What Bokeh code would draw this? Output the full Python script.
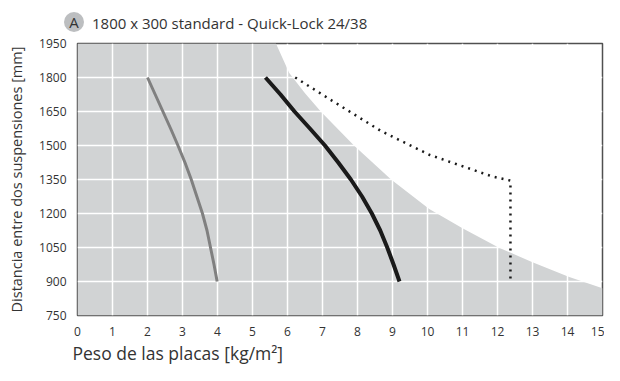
from bokeh.plotting import figure
from bokeh.models import Range1d, FixedTicker, Title, Div
from bokeh.layouts import column
from bokeh.embed import file_html
from bokeh.resources import INLINE

# ---- data ----
x_ticks = list(range(0, 16))
y_ticks = [750, 900, 1050, 1200, 1350, 1500, 1650, 1800, 1950]

# limit area (grey region lies below this boundary)
limit_x = [5.67, 6.05, 6.5, 6.95, 7.9, 8.96, 10.05, 11.0, 12.03, 13.0, 14.05, 15.0]
limit_y = [1950, 1820, 1730, 1650, 1500, 1350, 1220, 1135, 1050, 985, 920, 870]

grey_x = [2.0, 2.22, 2.44, 2.66, 2.87, 3.07, 3.25, 3.41, 3.57, 3.7, 3.8, 3.9, 3.99]
grey_y = [1800, 1725, 1650, 1575, 1500, 1425, 1350, 1275, 1200, 1125, 1050, 975, 900]

black_x = [5.37, 5.8, 6.2, 6.64, 7.07, 7.45, 7.81, 8.13, 8.41, 8.65, 8.85, 9.03, 9.2]
black_y = [1800, 1725, 1650, 1575, 1500, 1425, 1350, 1275, 1200, 1125, 1050, 975, 900]

dot_x = [6.22, 7.27, 8.67, 10.07, 11.84, 12.37, 12.37]
dot_y = [1800, 1698, 1564, 1458, 1364, 1345, 900]

x_min, x_max = 0, 15
y_min, y_max = 750, 1950

title_badge = "A"
title_text = "1800 x 300 standard - Quick-Lock 24/38"
x_label = "Peso de las placas [kg/m²]"
y_label = "Distancia entre dos suspensiones [mm]"

FONT = "Open Sans"
TXT = "#333333"

HEAD_H = 32
header = Div(width=604, height=HEAD_H, margin=(0, 0, 0, 0), text=(
    f'<div style="position:relative;width:604px;height:{HEAD_H}px;'
    f'font-family:\'{FONT}\';color:{TXT};">'
    '<span style="position:absolute;left:64px;top:12px;width:20px;height:20px;'
    'border-radius:50%;background:#bcbec0;font-size:15px;line-height:20px;'
    f'text-align:center;">{title_badge}</span>'
    '<span style="position:absolute;left:92px;top:12px;font-size:15px;'
    f'line-height:22px;white-space:nowrap;">{title_text}</span></div>'))

p = figure(width=604, height=365 - HEAD_H, output_backend="svg", toolbar_location=None,
           x_range=Range1d(x_min, x_max), y_range=Range1d(y_min, y_max),
           min_border_left=77, min_border_top=11, min_border_bottom=36, min_border_right=2,
           margin=(0, 0, 0, 0))

p.background_fill_color = "white"
p.border_fill_color = "white"
p.outline_line_color = "#505050"
p.outline_line_width = 1.5

# grey region
px = [x_min, x_min] + limit_x + [x_max]
py = [y_min, y_max] + limit_y + [y_min]
p.patch(px, py, fill_color="#d1d3d4", line_color=None, level="image")

# grid
p.xgrid.ticker = FixedTicker(ticks=x_ticks)
p.ygrid.ticker = FixedTicker(ticks=y_ticks)
for g in (p.xgrid, p.ygrid):
    g.grid_line_color = "white"
    g.grid_line_width = 1.5

p.line(grey_x, grey_y, line_color="#808080", line_width=3)
p.line(black_x, black_y, line_color="#1a1a1a", line_width=4)
p.line(dot_x, dot_y, line_color="#1a1a1a", line_width=2.5, line_dash="2 5")

for ax in (p.xaxis, p.yaxis):
    ax.axis_line_color = None
    ax.major_tick_line_color = None
    ax.minor_tick_line_color = None
    ax.major_label_text_font = FONT
    ax.major_label_text_font_size = "12px"
    ax.major_label_text_color = TXT

p.xaxis.ticker = FixedTicker(ticks=x_ticks)
p.yaxis.ticker = FixedTicker(ticks=y_ticks)
p.xaxis.major_label_standoff = 5
p.yaxis.major_label_standoff = 5

p.yaxis.axis_label = y_label
p.yaxis.axis_label_text_font = FONT
p.yaxis.axis_label_text_font_style = "normal"
p.yaxis.axis_label_text_font_size = "14.5px"
p.yaxis.axis_label_text_color = TXT
p.yaxis.axis_label_standoff = 10

# x axis label as a left-aligned title below
p.add_layout(Title(text=x_label, align="left", offset=-5,
                   text_font=FONT, text_font_size="17.5px", text_font_style="normal",
                   text_color=TXT, standoff=1), "below")

layout = column(header, p, spacing=0)
open("out.html", "w").write(file_html(layout, INLINE))
